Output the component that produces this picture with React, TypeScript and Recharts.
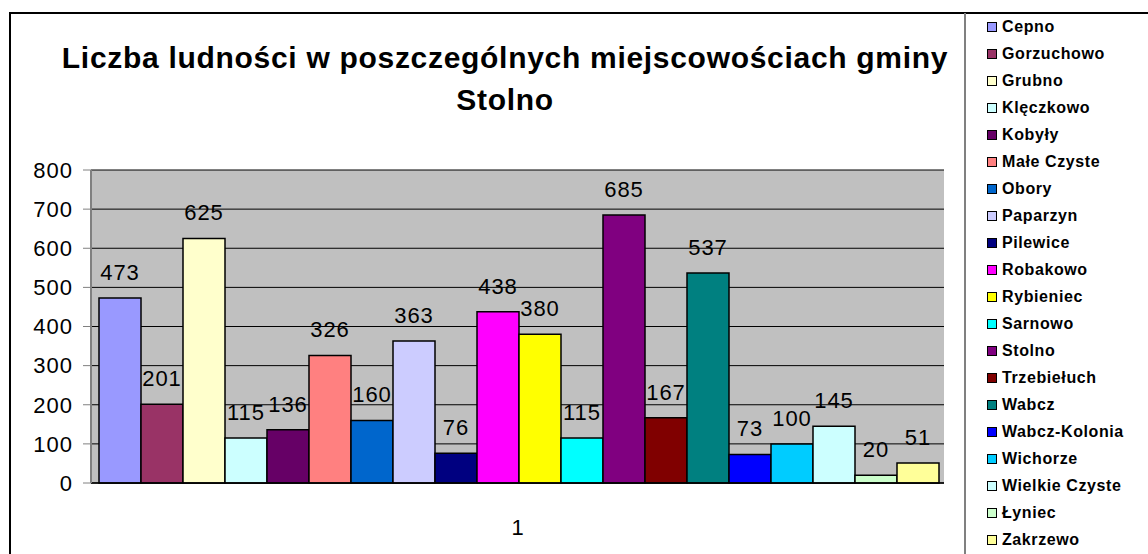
import React from "react";
import { BarChart, Bar, XAxis, YAxis, CartesianGrid, LabelList } from "recharts";

const places = [
  "Cepno", "Gorzuchowo", "Grubno", "Klęczkowo", "Kobyły", "Małe Czyste", "Obory",
  "Paparzyn", "Pilewice", "Robakowo", "Rybieniec", "Sarnowo", "Stolno", "Trzebiełuch",
  "Wabcz", "Wabcz-Kolonia", "Wichorze", "Wielkie Czyste", "Łyniec", "Zakrzewo",
];
const population = [473, 201, 625, 115, 136, 326, 160, 363, 76, 438, 380, 115, 685, 167, 537, 73, 100, 145, 20, 51];
const colors = [
  "#9999FF", "#993366", "#FFFFCC", "#CCFFFF", "#660066", "#FF8080", "#0066CC",
  "#CCCCFF", "#000080", "#FF00FF", "#FFFF00", "#00FFFF", "#800080", "#800000",
  "#008080", "#0000FF", "#00CCFF", "#CCFFFF", "#CCFFCC", "#FFFF99",
];
const yTicks = [0, 100, 200, 300, 400, 500, 600, 700, 800];
const category = "1";

const font = "'Liberation Sans', Arial, sans-serif";

const row: Record<string, string | number> = { name: category };
places.forEach((p, i) => (row[p] = population[i]));
const data = [row];

// Excel-style single-category column chart, legend drawn beside it
export default function App() {
  return (
    <div style={{ position: "absolute", left: 0, top: 0, width: 1148, height: 554, background: "#fff", fontFamily: font, overflow: "hidden" }}>
      <div style={{ position: "absolute", left: 9, top: 12, width: 1160, height: 560, border: "2px solid #000", boxSizing: "border-box" }} />
      <div
        style={{
          position: "absolute", left: 20, top: 37, width: 970, textAlign: "center",
          fontSize: 30, fontWeight: "bold", lineHeight: "42px", letterSpacing: 0.7, color: "#000",
        }}
      >
        Liczba ludności w poszczególnych miejscowościach gminy
        <br />
        Stolno
      </div>
      <div style={{ position: "absolute", left: 0, top: 0 }}>
        <BarChart width={1148} height={554} data={data} margin={{ top: 170, right: 204, bottom: 31, left: 31 }} barCategoryGap={8} barGap={0}>
          <CartesianGrid vertical={false} stroke="#000" strokeWidth={1} fill="#C0C0C0" />
          <XAxis
            dataKey="name"
            height={40}
            axisLine={{ stroke: "#000", strokeWidth: 1.5 }}
            tickLine={false}
            tick={{ fontSize: 22, fill: "#000", fontFamily: font, dy: 28 }}
          />
          <YAxis
            width={60}
            domain={[0, 800]}
            ticks={yTicks}
            interval={0}
            axisLine={{ stroke: "#808080", strokeWidth: 2 }}
            tickLine={{ stroke: "#808080" }}
            tickSize={8}
            tickMargin={10}
            tick={{ fontSize: 22, fill: "#000", fontFamily: font, letterSpacing: 1 }}
          />
          <YAxis yAxisId="r" orientation="right" width={0} axisLine={{ stroke: "#808080", strokeWidth: 2 }} tick={false} tickLine={false} />
          {places.map((p, i) => (
            <Bar key={p} dataKey={p} fill={colors[i]} stroke="#000" strokeWidth={1.5} isAnimationActive={false}>
              <LabelList dataKey={p} position="top" offset={18} style={{ fontSize: 22, fill: "#000", fontFamily: font, letterSpacing: 1 }} />
            </Bar>
          ))}
        </BarChart>
      </div>
      <div style={{ position: "absolute", left: 964, top: 13, width: 200, height: 560, borderLeft: "2px solid #808080" }}>
        {places.map((p, i) => (
          <div key={p} style={{ position: "absolute", left: 21, top: 27 * i + 4, height: 20, display: "flex", alignItems: "center", whiteSpace: "nowrap" }}>
            <span style={{ display: "inline-block", width: 8, height: 8, background: colors[i], border: "1.5px solid #000", marginRight: 5 }} />
            <span style={{ fontSize: 16, fontWeight: "bold", color: "#000", letterSpacing: 0.6 }}>{p}</span>
          </div>
        ))}
      </div>
    </div>
  );
}
